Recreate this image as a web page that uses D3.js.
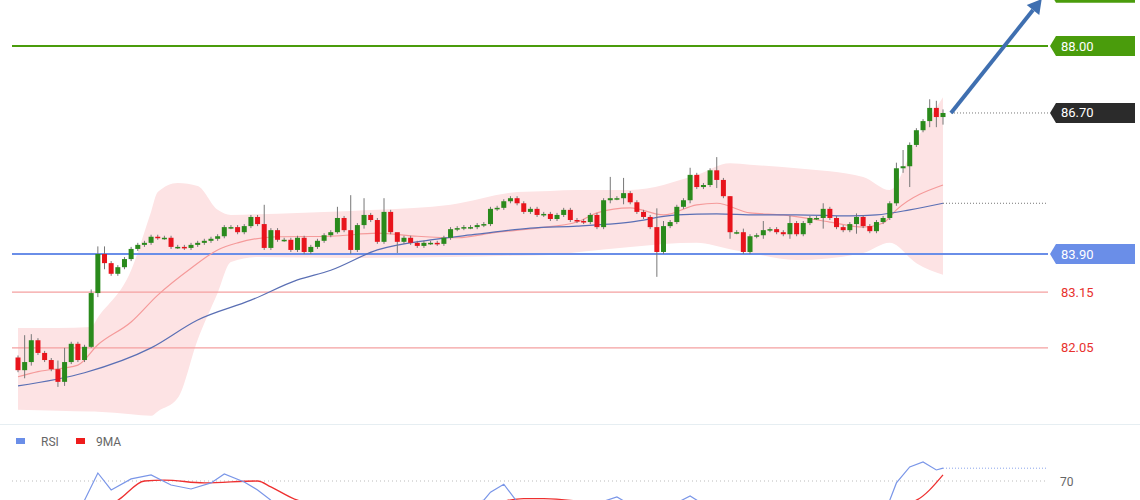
<!DOCTYPE html>
<html>
<head>
<meta charset="utf-8">
<script src="https://unpkg.com/d3@7/dist/d3.min.js"></script>
<style>
  body { margin: 0; background: #fff; }
  svg { display: block; font-family: "Roboto", "Liberation Sans", sans-serif; }
</style>
</head>
<body>
<div id="wrapper"></div>
<script>
// closes, candle by candle (open = previous close)
const firstOpen = 81.86
const closes = [81.61,81.77,82.20,81.95,81.81,81.63,81.38,81.77,82.13,81.81,
  82.07,83.13,83.90,83.72,83.51,83.64,83.80,84.00,84.08,84.12,
  84.24,84.22,84.22,84.04,84.04,84.02,84.08,84.12,84.16,84.20,
  84.25,84.43,84.43,84.33,84.45,84.63,84.49,84.02,84.37,84.18,
  84.18,83.98,84.22,83.94,84.04,84.16,84.27,84.33,84.61,84.37,
  83.98,84.47,84.67,84.57,84.14,84.73,84.33,84.14,84.22,84.12,
  84.06,84.12,84.12,84.10,84.22,84.39,84.41,84.43,84.43,84.47,
  84.49,84.79,84.81,84.94,85.00,84.90,84.73,84.79,84.67,84.69,
  84.59,84.67,84.77,84.57,84.55,84.53,84.67,84.43,84.96,85.00,
  85.00,85.10,84.92,84.73,84.63,84.43,83.94,84.45,84.53,84.83,
  84.96,85.46,85.22,85.26,85.55,85.36,85.04,84.33,84.33,83.94,
  84.25,84.27,84.37,84.39,84.33,84.29,84.51,84.29,84.51,84.61,
  84.61,84.79,84.61,84.43,84.37,84.49,84.63,84.45,84.35,84.53,
  84.61,84.90,85.59,85.63,86.05,86.34,86.52,86.78,86.60,86.68]
// candles with long wicks: index -> [high, low]
const wicks = {2:[82.30,81.45],3:[82.32,81.70],7:[81.80,81.28],8:[82.05,81.30],12:[83.20,82.05],13:[84.05,83.05],
  14:[84.05,83.60],38:[84.87,83.98],49:[84.83,84.30],51:[85.06,83.90],53:[85.00,84.40],56:[85.00,84.10],
  58:[84.30,83.92],90:[85.42,84.90],92:[85.40,84.88],97:[84.80,83.45],98:[84.55,83.90],102:[85.60,84.90],
  106:[85.81,85.20],108:[85.04,84.20],110:[84.40,83.90],113:[84.55,84.20],117:[84.65,84.20],122:[84.90,84.40],
  127:[84.70,84.30],133:[85.70,84.85],134:[85.95,85.50],135:[86.10,85.22],138:[86.95,86.40],139:[86.92,86.40],140:[86.75,86.45]}

const ma20Idx = [1,4,10,13,18,22,27,31,34,40,48,55,61,67,73,79,85,88,93,98,103,106,111,116,123,128,131,133,140]
const ma20Val = [81.48,81.58,81.71,82.11,82.56,83.09,83.62,83.98,84.12,84.24,84.25,84.31,84.25,84.22,84.33,84.41,84.53,84.71,84.81,84.67,84.87,84.90,84.71,84.67,84.53,84.43,84.51,84.77,85.26]
const ma50Idx = [1,11,21,28,36,43,48,55,63,70,78,85,93,100,106,112,118,126,130,135,140]
const ma50Val = [81.30,81.56,82.05,82.60,82.99,83.39,83.58,83.98,84.18,84.29,84.41,84.45,84.53,84.67,84.69,84.67,84.67,84.65,84.67,84.77,84.90]
const bandUpIdx = [1,7,12,18,22,25,28,31,33,43,55,66,76,85,93,103,108,118,128,132,136,140]
const bandUpVal = [82.44,82.44,82.46,83.58,85.12,85.30,85.24,84.77,84.67,84.71,84.77,84.87,85.12,85.16,85.16,85.46,85.69,85.59,85.42,85.16,86.15,86.99]
const bandLoIdx = [1,13,21,25,28,31,33,37,51,66,81,93,103,111,118,128,132,136,140]
const bandLoVal = [80.83,80.79,80.71,81.06,82.21,83.13,83.74,83.84,83.82,83.84,83.88,84.04,84.12,83.92,83.78,83.92,84.12,83.72,83.49]

const levels = [
  {v: 88.00, label: "88.00", color: "#4a9c0c", box: true},
  {v: 83.90, label: "83.90", color: "#6a8ee8", box: true},
  {v: 83.15, label: "83.15", color: "#f4a0a0", text: "#e8322e"},
  {v: 82.05, label: "82.05", color: "#f4a0a0", text: "#e8322e"},
]
const lastLabel = "86.70"
const topTarget = 89.05

const rsiIdx = [1,5,9,11,13,15,18,21,24,27,30,32,35,37,39,45,55,65,71,72,74,76,85,91,96,102,110,120,128,132,133,135,137,139,140]
const rsiVal = [45,40,42,58,75,64.4,71.3,73.8,67.5,65,68.8,74.4,69.4,64.4,58,50,48,52,58,63,68,57,52,60,48,60.6,40,45,50,58,68.8,78.8,81.9,76.9,78]
const ma9Idx = [1,10,16,20,23,29,37,39,43,55,70,77,80,90,110,125,136,140]
const ma9Val = [42,50,58,70,70.6,68.8,70,66.3,58,50,54,59,59,55,48,47,58,73.8]

const W = 1140, H = 500, paneBottom = 424
const x = d3.scaleLinear().domain([1, 140]).range([18, 943])
const y = d3.scaleLinear().domain([80.549, 88.907]).range([paneBottom, 0])
const yR = d3.scaleLinear().domain([70, 100]).range([481, 433])

const svg = d3.select("#wrapper").append("svg").attr("width", W).attr("height", H)
svg.append("defs").append("clipPath").attr("id", "mainClip")
  .append("rect").attr("x", 0).attr("y", 0).attr("width", W).attr("height", paneBottom)
svg.select("defs").append("clipPath").attr("id", "rsiClip")
  .append("rect").attr("x", 0).attr("y", paneBottom + 1).attr("width", W).attr("height", H - paneBottom)

const main = svg.append("g").attr("clip-path", "url(#mainClip)")

// band
const interpUp = d3.scaleLinear().domain(bandUpIdx).range(bandUpVal)
const interpLo = d3.scaleLinear().domain(bandLoIdx).range(bandLoVal)
const allIdx = Array.from(new Set([...bandUpIdx, ...bandLoIdx])).sort((a, b) => a - b)
main.append("path")
  .datum(allIdx)
  .attr("d", d3.area().curve(d3.curveMonotoneX)
    .x(d => x(d)).y0(d => y(interpLo(d))).y1(d => y(interpUp(d))))
  .attr("fill", "#fde3e4")

// horizontal levels
levels.forEach(l => {
  main.append("line").attr("x1", 12).attr("x2", 1048).attr("y1", y(l.v)).attr("y2", y(l.v))
    .attr("stroke", l.color).attr("stroke-width", l.box ? 2 : 1.3)
})

// moving averages
main.append("path").datum(d3.zip(ma20Idx, ma20Val))
  .attr("d", d3.line().curve(d3.curveMonotoneX).x(d => x(d[0])).y(d => y(d[1])))
  .attr("fill", "none").attr("stroke", "#f59a9a").attr("stroke-width", 1.2)
main.append("path").datum(d3.zip(ma50Idx, ma50Val))
  .attr("d", d3.line().curve(d3.curveMonotoneX).x(d => x(d[0])).y(d => y(d[1])))
  .attr("fill", "none").attr("stroke", "#5a6fb4").attr("stroke-width", 1.2)

// candles
const candles = closes.map((c, i) => {
  const o = i === 0 ? firstOpen : closes[i - 1]
  const w = wicks[i + 1]
  const hi = w ? w[0] : Math.max(o, c) + 0.04
  const lo = w ? w[1] : Math.min(o, c) - 0.04
  return {i: i + 1, o, c, hi, lo}
})
const cg = main.append("g")
cg.selectAll("line").data(candles).join("line")
  .attr("x1", d => x(d.i)).attr("x2", d => x(d.i))
  .attr("y1", d => y(d.hi)).attr("y2", d => y(d.lo))
  .attr("stroke", "#777").attr("stroke-width", 1)
cg.selectAll("rect").data(candles).join("rect")
  .attr("x", d => x(d.i) - 2.5).attr("width", 5)
  .attr("y", d => y(Math.max(d.o, d.c)))
  .attr("height", d => Math.max(1.5, Math.abs(y(d.o) - y(d.c))))
  .attr("fill", d => d.c >= d.o ? "#2a8a1c" : "#e8141c")

// dotted extension lines
const last = closes[closes.length - 1]
main.append("line").attr("x1", x(140) + 8).attr("x2", 1048).attr("y1", y(last)).attr("y2", y(last))
  .attr("stroke", "#777").attr("stroke-dasharray", "1,2")
main.append("line").attr("x1", x(140)).attr("x2", 1048).attr("y1", y(84.90)).attr("y2", y(84.90))
  .attr("stroke", "#777").attr("stroke-dasharray", "1,2")

// price labels
function tag(v, color, text) {
  const cy = y(v)
  svg.append("path")
    .attr("d", `M1050,${cy} L1056,${cy - 10} L1135,${cy - 10} L1135,${cy + 10} L1056,${cy + 10} Z`)
    .attr("fill", color)
  if (text) svg.append("text").attr("x", 1061).attr("y", cy + 4.5).text(text)
    .attr("fill", "#fff").style("font-size", "13px")
}
tag(topTarget, "#4a9c0c", null)
levels.forEach(l => {
  if (l.box) tag(l.v, l.color, l.label)
  else svg.append("text").attr("x", 1061).attr("y", y(l.v) + 4.5).text(l.label)
    .attr("fill", l.text).style("font-size", "13px")
})
tag(last, "#2b2b2b", lastLabel)

// arrow
const ax1 = x(140) + 8, ay1 = y(last), ax2 = 1033, ay2 = 10
svg.append("line").attr("x1", ax1).attr("y1", ay1).attr("x2", ax2).attr("y2", ay2)
  .attr("stroke", "#3f6fb0").attr("stroke-width", 4)
const ang = Math.atan2(ay2 - ay1, ax2 - ax1)
const tip = [ax2 + 14 * Math.cos(ang), ay2 + 14 * Math.sin(ang)]
const side = (s) => [ax2 + 8 * Math.cos(ang + s * Math.PI / 2), ay2 + 8 * Math.sin(ang + s * Math.PI / 2)]
svg.append("polygon").attr("points", [tip, side(1), side(-1)].map(p => p.join(",")).join(" "))
  .attr("fill", "#3f6fb0")

// RSI pane
svg.append("line").attr("x1", 0).attr("x2", W).attr("y1", paneBottom + 0.5).attr("y2", paneBottom + 0.5)
  .attr("stroke", "#e6eef2")
const leg = svg.append("g").style("font-size", "12px").attr("fill", "#666")
leg.append("rect").attr("x", 16).attr("y", 438).attr("width", 9).attr("height", 6).attr("fill", "#6a8ee8")
leg.append("text").attr("x", 41).attr("y", 446).text("RSI")
leg.append("rect").attr("x", 76).attr("y", 438).attr("width", 9).attr("height", 6).attr("fill", "#ee1c1c")
leg.append("text").attr("x", 96).attr("y", 446).text("9MA")

const rsiG = svg.append("g").attr("clip-path", "url(#rsiClip)")
rsiG.append("line").attr("x1", 12).attr("x2", 1048).attr("y1", yR(70)).attr("y2", yR(70))
  .attr("stroke", "#bbb").attr("stroke-dasharray", "1,3")
svg.append("text").attr("x", 1060).attr("y", yR(70) + 4.5).text("70").attr("fill", "#666").style("font-size", "12px")
rsiG.append("path").datum(d3.zip(ma9Idx, ma9Val))
  .attr("d", d3.line().curve(d3.curveMonotoneX).x(d => x(d[0])).y(d => yR(d[1])))
  .attr("fill", "none").attr("stroke", "#ee3030").attr("stroke-width", 1.3)
rsiG.append("path").datum(d3.zip(rsiIdx, rsiVal))
  .attr("d", d3.line().x(d => x(d[0])).y(d => yR(d[1])))
  .attr("fill", "none").attr("stroke", "#7a96e8").attr("stroke-width", 1.2)
const rsiLast = rsiVal[rsiVal.length - 1]
rsiG.append("line").attr("x1", x(140)).attr("x2", 1048).attr("y1", yR(rsiLast)).attr("y2", yR(rsiLast))
  .attr("stroke", "#8aa4ec").attr("stroke-dasharray", "1,2")
</script>
</body>
</html>
